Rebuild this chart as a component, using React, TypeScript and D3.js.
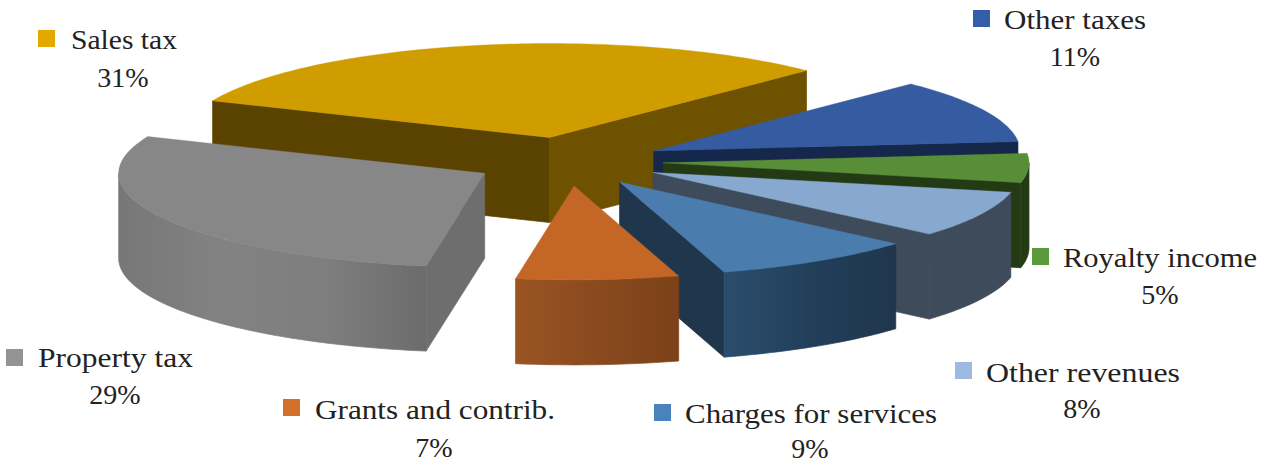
import React from "react";
import * as d3 from "d3";

// ---- data ----
const categories = ["Sales tax", "Other taxes", "Royalty income", "Other revenues", "Charges for services", "Grants and contrib.", "Property tax"];
const shares = [31, 11, 5, 8, 9, 7.17, 28.83];

// ---- styles ----
const topColors = ["#D09D00", "#355CA1", "#588E38", "#88A9CF", "#4A7CAD", "#C36626", "#878787"];
const legendColors = ["#E4A900", "#345EA8", "#5B9A3C", "#9DBBE0", "#4A82BB", "#D3702A", "#939393"];
const startFaceColors = ["#5A4300", "#15274A", "#243A15", "#3E4B5A", "#1F364D", "#7C4119", "#6E6E6E"];
const endFaceColors = ["#6E5200", "#15274A", "#243A15", "#3E4B5A", "#1F364D", "#7C4119", "#6E6E6E"];
const wallStops: string[][] = [
  ["#6E5200", "#5A4300"],
  ["#15274A", "#15274A"],
  ["#243A15", "#243A15"],
  ["#3E4B5A", "#3E4B5A"],
  ["#2B4D6D", "#223F5A", "#1F364D"],
  ["#9A5423", "#8A4A1E", "#7C4119"],
  ["#777777", "#828282", "#7E7E7E", "#6C6C6C"],
];
const paintOrder = [0, 1, 2, 3, 4, 6, 5];

// ---- layout ----
const cx = 568, cy = 161.5, rx = 366, ry = 94, depth = 85, explode = 0.26;
const firstAngle = (-67 * Math.PI) / 180;
// [square x, square y, text x, text end x, text baseline, percent centre x, percent baseline]
const labelBoxes = [
  [38, 30, 71, 177, 49, 123, 87],
  [973, 10, 1004, 1146, 29, 1075, 66],
  [1032, 248, 1063, 1257, 267, 1160, 304],
  [955, 362, 986, 1180, 382, 1082, 418],
  [654, 404, 685, 937, 423, 810, 457.9],
  [283, 399, 315, 555, 419, 434, 457],
  [6, 349, 38, 193, 367, 115, 404],
];

const pieAngles = d3.pie<number>().sort(null).value((d) => d).startAngle(firstAngle).endAngle(firstAngle + 2 * Math.PI)(shares);

const line = d3.line<[number, number]>();
const percentFormat = d3.format(".0f");

function rimPoints(ax: number, ay: number, a0: number, a1: number, dy: number): [number, number][] {
  const n = Math.max(2, Math.ceil(((a1 - a0) * 180) / Math.PI));
  const scale = d3.scaleLinear().domain([0, n]).range([a0, a1]);
  return d3.range(n + 1).map((i) => {
    const t = scale(i);
    return [ax + rx * Math.sin(t), ay - ry * Math.cos(t) + dy] as [number, number];
  });
}

function Slice({ i }: { i: number }) {
  const arc = pieAngles[i];
  const a0 = arc.startAngle, a1 = arc.endAngle;
  const mid = (a0 + a1) / 2;
  const ax = cx + explode * rx * Math.sin(mid);
  const ay = cy - explode * ry * Math.cos(mid);
  const pA = (t: number): [number, number] => [ax + rx * Math.sin(t), ay - ry * Math.cos(t)];
  const face = (t: number) => {
    const p = pA(t);
    return line([[ax, ay], p, [p[0], p[1] + depth], [ax, ay + depth]]) + "Z";
  };
  const wA = Math.max(a0, Math.PI / 2), wB = Math.min(a1, (3 * Math.PI) / 2);
  const wall = wB > wA
    ? line([...rimPoints(ax, ay, wA, wB, 0), ...rimPoints(ax, ay, wA, wB, depth).reverse()]) + "Z"
    : null;
  const top = line([[ax, ay], ...rimPoints(ax, ay, a0, a1, 0)]) + "Z";
  const startVisible = -Math.sin(a0) > 0;
  const endVisible = Math.sin(a1) > 0;
  const stops = wallStops[i];
  return (
    <g>
      <defs>
        <linearGradient id={`wall${i}`} x1="0" x2="1" y1="0" y2="0">
          {stops.map((c, k) => (
            <stop key={k} offset={k / (stops.length - 1)} stopColor={c} />
          ))}
        </linearGradient>
      </defs>
      {startVisible && <path d={face(a0)} fill={startFaceColors[i]} stroke={startFaceColors[i]} strokeWidth={0.7} />}
      {endVisible && <path d={face(a1)} fill={endFaceColors[i]} stroke={endFaceColors[i]} strokeWidth={0.7} />}
      {wall && <path d={wall} fill={`url(#wall${i})`} stroke={`url(#wall${i})`} strokeWidth={0.7} />}
      <path d={top} fill={topColors[i]} stroke={topColors[i]} strokeWidth={0.4} />
    </g>
  );
}

const fontFamily = "'Liberation Serif', serif";

export default function App() {
  return (
    <svg width={1270} height={464} viewBox="0 0 1270 464" style={{ position: "absolute", left: 0, top: 0, background: "#fff" }}>
      {paintOrder.map((i) => (
        <Slice key={i} i={i} />
      ))}
      {categories.map((c, i) => {
        const [sx, sy, tx, te, tb, px, pb] = labelBoxes[i];
        return (
          <g key={c} fontFamily={fontFamily} fontSize={28} fill="#222222">
            <rect x={sx} y={sy} width={17} height={17} fill={legendColors[i]} />
            <text x={tx} y={tb} textLength={te - tx} lengthAdjust="spacingAndGlyphs">{c}</text>
            <text x={px} y={pb} textAnchor="middle">{`${percentFormat(shares[i])}%`}</text>
          </g>
        );
      })}
    </svg>
  );
}
